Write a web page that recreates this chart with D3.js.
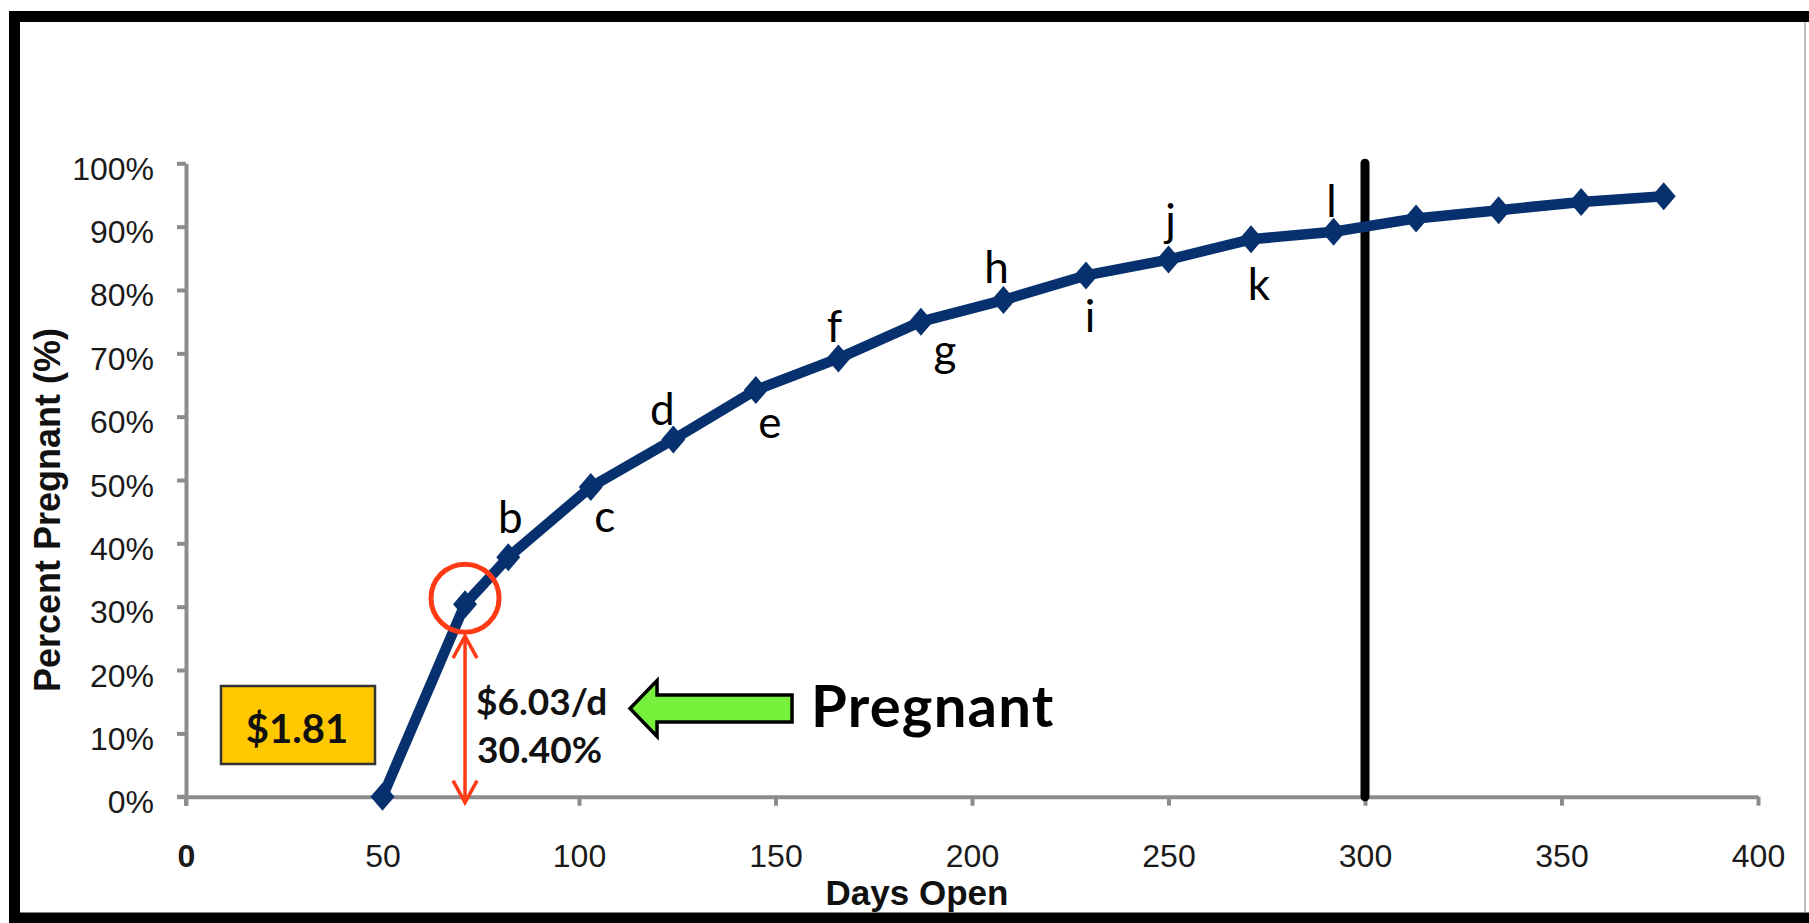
<!DOCTYPE html>
<html>
<head>
<meta charset="utf-8">
<script src="https://cdn.jsdelivr.net/npm/d3@7"></script>
<style>
  html, body { margin: 0; padding: 0; background: #fff; }
  svg { display: block; }
</style>
</head>
<body>
<svg id="chart" width="1809" height="923"></svg>
<script>
// Cumulative pregnancy curve: days open vs. percent pregnant
const days = [50, 71, 82, 103, 124, 145, 166, 187, 208, 229, 250, 271, 292, 313, 334, 355, 376];
const pctPregnant = [0, 30.4, 37.8, 48.9, 56.4, 64.2, 69.2, 75.0, 78.4, 82.3, 84.8, 88.0, 89.2, 91.3, 92.6, 93.9, 94.8];
const pointLetters = ["", "", "b", "c", "d", "e", "f", "g", "h", "i", "j", "k", "l", "", "", "", ""];
const xTicks = [0, 50, 100, 150, 200, 250, 300, 350, 400];
const yTicks = [0, 10, 20, 30, 40, 50, 60, 70, 80, 90, 100];
const cutoffDay = 300;
const highlightIndex = 1;
const costPerDayLabel = "$6.03/d";
const highlightPctLabel = "30.40%";
const arrowLabel = "Pregnant";
const boxLabel = "$1.81";
const xTitle = "Days Open";
const yTitle = "Percent Pregnant (%)";

const svg = d3.select("#chart");
const W = 1809, H = 923;

const x = d3.scaleLinear().domain([0, 400]).range([186, 1758]);
const y = d3.scaleLinear().domain([0, 100]).range([796.7, 163.3]);

const AXIS = "#8c8c8c";
const NAVY = "#07306f";
const RED = "#ff3a14";
const SANS = "'Liberation Sans', Arial, Helvetica, sans-serif";
const CAL = "Lato, 'Open Sans', sans-serif";

// outer frame
svg.append("rect").attr("x", 0).attr("y", 0).attr("width", W).attr("height", H).attr("fill", "#fff");
svg.append("rect")
  .attr("x", 14.5).attr("y", 16.5).attr("width", 1830).attr("height", 901.5)
  .attr("fill", "none").attr("stroke", "#000").attr("stroke-width", 11);
svg.append("line")
  .attr("x1", 1805).attr("x2", 1805).attr("y1", 22).attr("y2", 912)
  .attr("stroke", "#bdbdbd").attr("stroke-width", 2);

// y axis
const yAxis = svg.append("g")
  .attr("transform", `translate(${x(0)},0)`)
  .call(d3.axisLeft(y).tickValues(yTicks).tickFormat(d => d + "%").tickSize(9).tickSizeOuter(0).tickPadding(23));
yAxis.select(".domain").attr("stroke", AXIS).attr("stroke-width", 4);
yAxis.selectAll(".tick line").attr("stroke", AXIS).attr("stroke-width", 4);
yAxis.selectAll(".tick text")
  .attr("font-family", SANS).attr("font-size", 32).attr("fill", "#1a1a1a").attr("dy", "0.5em");

// x axis
const xAxis = svg.append("g")
  .attr("transform", `translate(0,${y(0)})`)
  .call(d3.axisBottom(x).tickValues(xTicks).tickSize(9).tickSizeOuter(0).tickPadding(39));
xAxis.select(".domain").attr("stroke", AXIS).attr("stroke-width", 4);
xAxis.selectAll(".tick line").attr("stroke", AXIS).attr("stroke-width", 4);
xAxis.selectAll(".tick text")
  .attr("font-family", SANS).attr("font-size", 32).attr("fill", "#1a1a1a")
  .attr("font-weight", d => d === 0 ? "bold" : "normal");
// the 0% tick continues left of the axis
svg.append("line")
  .attr("x1", x(0) - 9).attr("x2", x(0)).attr("y1", y(0)).attr("y2", y(0))
  .attr("stroke", AXIS).attr("stroke-width", 4);
svg.append("line")
  .attr("x1", x(0)).attr("x2", x(0)).attr("y1", y(0)).attr("y2", y(0) + 9)
  .attr("stroke", AXIS).attr("stroke-width", 4);

// axis titles
svg.append("text")
  .attr("x", 917).attr("y", 905)
  .attr("text-anchor", "middle")
  .attr("font-family", SANS).attr("font-weight", "bold").attr("font-size", 35)
  .attr("fill", "#111").text(xTitle);
svg.append("text")
  .attr("transform", "translate(60,510) rotate(-90)")
  .attr("text-anchor", "middle")
  .attr("font-family", SANS).attr("font-weight", "bold").attr("font-size", 36)
  .attr("fill", "#111").text(yTitle);

// cutoff line
svg.append("line")
  .attr("x1", x(cutoffDay)).attr("x2", x(cutoffDay))
  .attr("y1", y(100)).attr("y2", y(0))
  .attr("stroke", "#000").attr("stroke-width", 9).attr("stroke-linecap", "round");

// series
const pts = days.map((d, i) => ({ d, v: pctPregnant[i], letter: pointLetters[i], i }));
const line = d3.line().x(p => x(p.d)).y(p => y(p.v));
svg.append("path")
  .datum(pts)
  .attr("d", line)
  .attr("fill", "none").attr("stroke", NAVY).attr("stroke-width", 10.5)
  .attr("stroke-linejoin", "round");

svg.append("g").selectAll("path")
  .data(pts)
  .join("path")
  .attr("transform", p => `translate(${x(p.d)},${y(p.v)})`)
  .attr("d", "M0,-14L12,0L0,14L-12,0Z")
  .attr("fill", NAVY);

// letter tags beside points (dx, dy from the marker to the text baseline)
const letterOffsets = {
  b: [2, -24], c: [14, 45], d: [-11, -14], e: [14, 48], f: [-4, -16], g: [24, 44],
  h: [-7, -17], i: [4, 57], j: [2, -24], k: [8, 61], l: [-2, -15]
};
svg.append("g").selectAll("text")
  .data(pts.filter(p => p.letter))
  .join("text")
  .attr("x", p => x(p.d) + letterOffsets[p.letter][0])
  .attr("y", p => y(p.v) + letterOffsets[p.letter][1])
  .attr("text-anchor", "middle")
  .attr("font-family", CAL).attr("font-size", 44).attr("fill", "#000")
  .text(p => p.letter);

// highlighted point: circle and double-headed arrow down to the axis
const hp = pts[highlightIndex];
const hx = x(hp.d), hy = y(hp.v);
svg.append("circle")
  .attr("cx", hx).attr("cy", hy - 6).attr("r", 34)
  .attr("fill", "none").attr("stroke", RED).attr("stroke-width", 5);
const aTop = hy + 32, aBot = y(0) + 6;
svg.append("line")
  .attr("x1", hx).attr("x2", hx).attr("y1", aTop).attr("y2", aBot)
  .attr("stroke", RED).attr("stroke-width", 3.5);
svg.append("path")
  .attr("d", `M${hx - 12},${aTop + 22}L${hx},${aTop}L${hx + 12},${aTop + 22}M${hx - 12},${aBot - 22}L${hx},${aBot}L${hx + 12},${aBot - 22}`)
  .attr("fill", "none").attr("stroke", RED).attr("stroke-width", 3.5);

svg.append("text")
  .attr("x", hx + 11).attr("y", 715)
  .attr("font-family", CAL).attr("font-weight", "bold").attr("font-size", 37).attr("fill", "#111")
  .text(costPerDayLabel);
svg.append("text")
  .attr("x", hx + 12).attr("y", 763)
  .attr("font-family", CAL).attr("font-weight", "bold").attr("font-size", 37).attr("fill", "#111")
  .text(highlightPctLabel);

// green block arrow pointing at the labels
const tipX = hx + 165, midY = 708.5;
svg.append("path")
  .attr("d", `M${tipX},${midY}L${tipX + 27},${midY - 28}L${tipX + 27},${midY - 13.5}L${tipX + 162},${midY - 13.5}L${tipX + 162},${midY + 13.5}L${tipX + 27},${midY + 13.5}L${tipX + 27},${midY + 28}Z`)
  .attr("fill", "#77f03c").attr("stroke", "#000").attr("stroke-width", 3.5)
  .attr("stroke-linejoin", "miter");
svg.append("text")
  .attr("x", 811).attr("y", 727)
  .attr("font-family", CAL).attr("font-weight", "bold").attr("font-size", 58)
  .attr("letter-spacing", 1.2).attr("fill", "#000")
  .text(arrowLabel);

// yellow value box
svg.append("rect")
  .attr("x", 221).attr("y", 686).attr("width", 154).attr("height", 78)
  .attr("fill", "#ffc800").attr("stroke", "#333").attr("stroke-width", 2.5);
svg.append("text")
  .attr("x", 297).attr("y", 743)
  .attr("text-anchor", "middle")
  .attr("font-family", CAL).attr("font-weight", "bold").attr("font-size", 40).attr("fill", "#111")
  .text(boxLabel);
</script>
</body>
</html>
